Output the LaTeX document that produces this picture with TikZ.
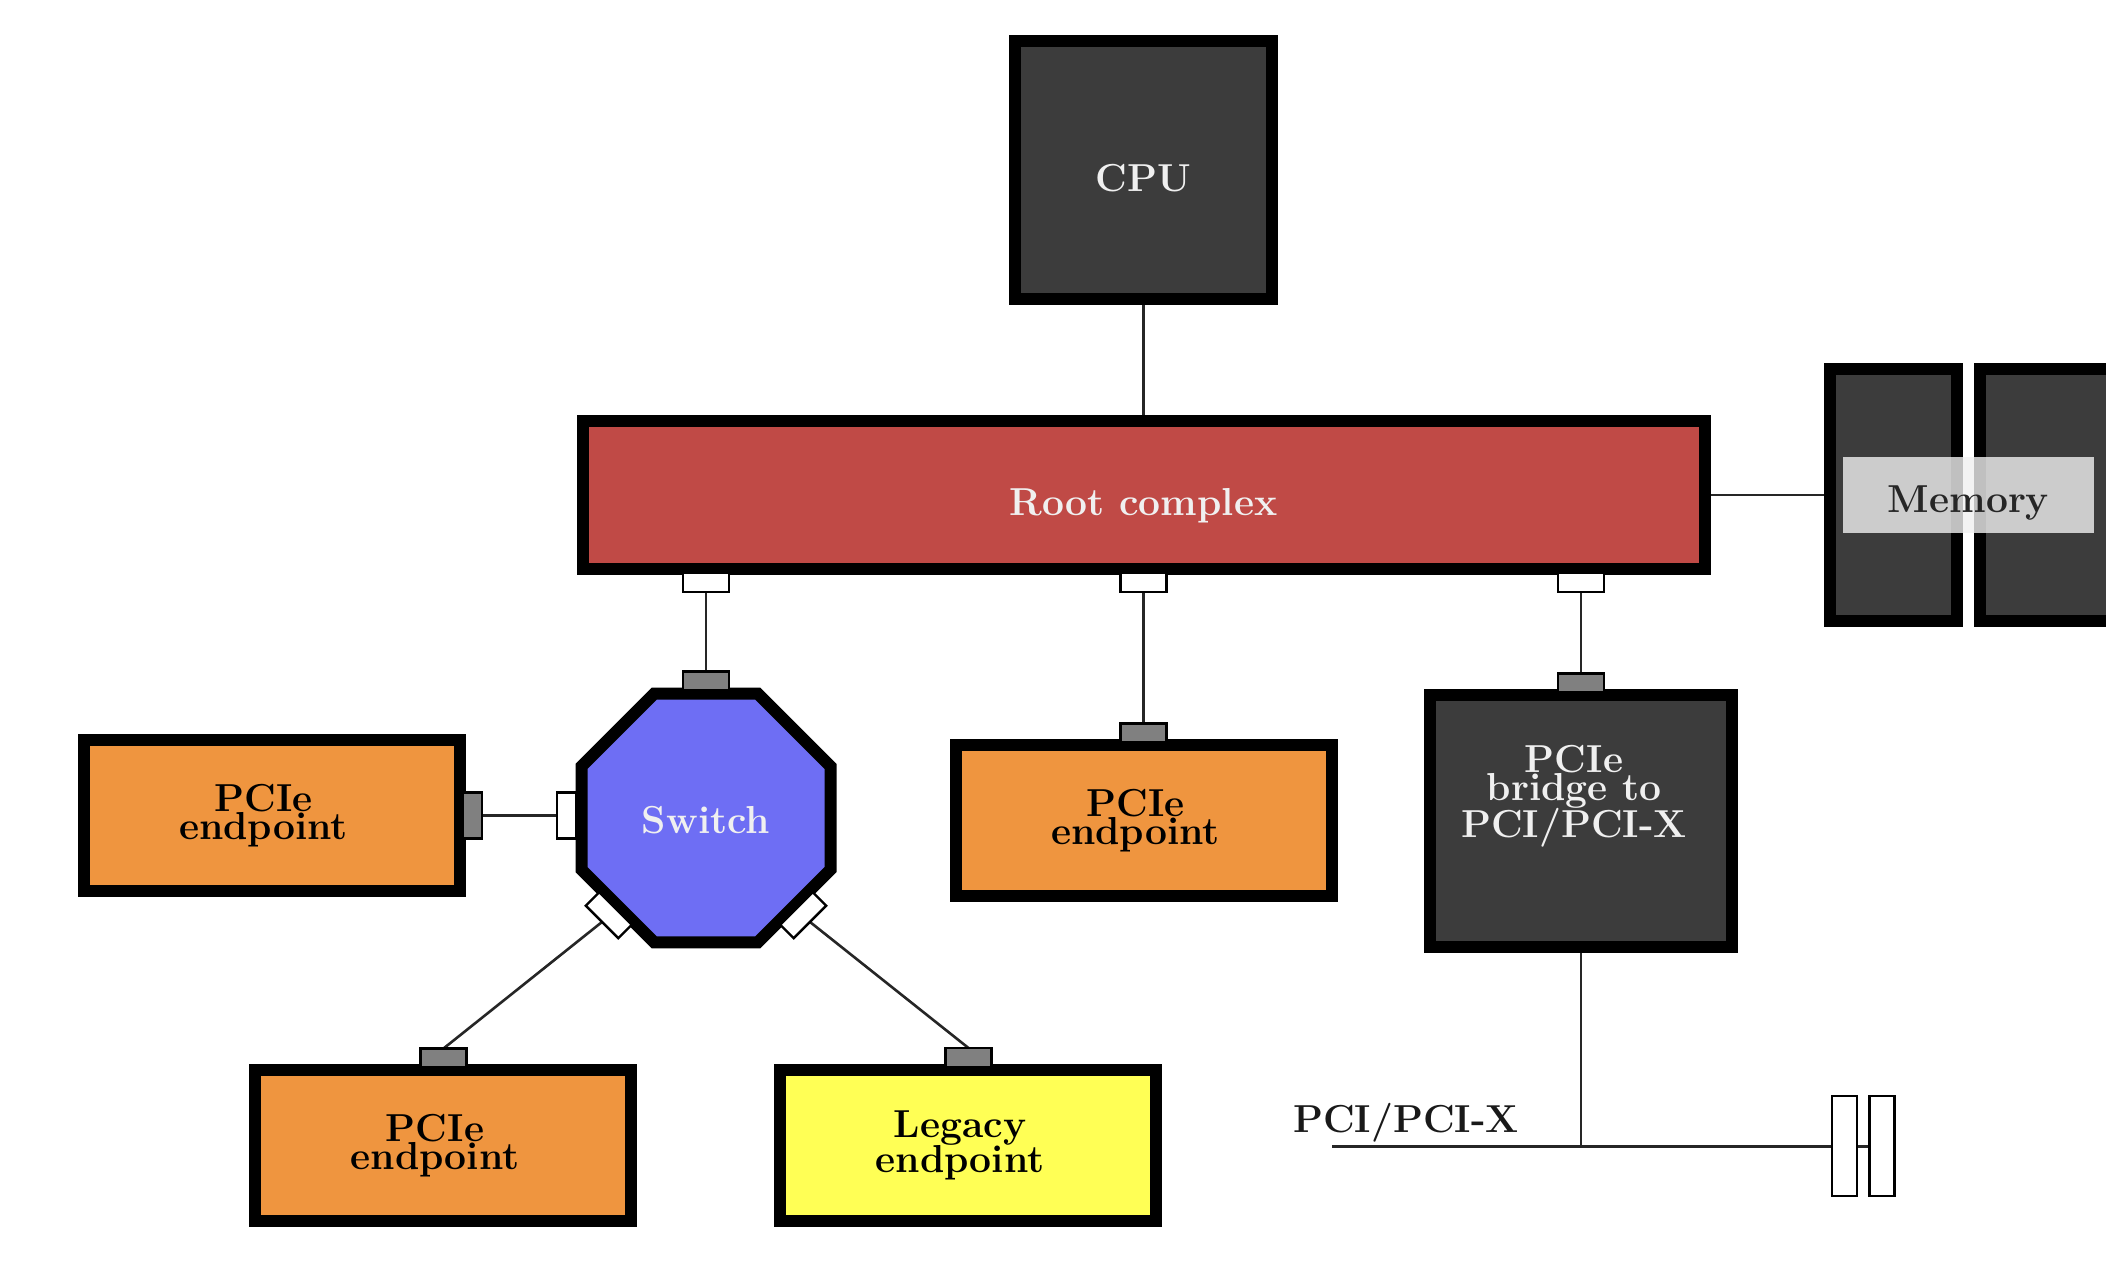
\documentclass[tikz,border=0pt]{standalone}
\usepackage{fontspec}
\usetikzlibrary{shapes.geometric,backgrounds}
\definecolor{cpugray}{HTML}{3C3C3C}
\definecolor{rootred}{HTML}{C04A46}
\definecolor{swblue}{HTML}{6E6EF4}
\definecolor{eporange}{HTML}{EF953F}
\definecolor{epyellow}{HTML}{FFFF55}
\definecolor{portgray}{HTML}{808080}
\definecolor{memband}{HTML}{F0F0F0}
\newcommand{\shl}{\hspace*{8pt}}
\newcommand{\tightbold}{\fontsize{19.5}{0}\selectfont\bfseries\lineskip 0pt\relax}
\begin{document}
\begin{tikzpicture}[x=0.5pt,y=-0.5pt,
  box/.style={draw=black, line width=6pt, rectangle, inner sep=0pt, outer sep=0pt},
  epbox/.style={box, minimum width=188pt, minimum height=75.5pt, bfont, align=center},
  bfont/.style={font=\tightbold},
  wlabel/.style={bfont, text=white!94!black, inner sep=0pt, anchor=base},
  port/.style={draw=black, line width=1.2pt, rectangle, inner sep=0pt, outer sep=0pt,
    minimum width=23pt, minimum height=9.5pt},
  gport/.style={port, fill=portgray},
  wport/.style={port, fill=white},
  slot/.style={draw=black, line width=1.3pt, fill=white, rectangle, inner sep=0pt,
    outer sep=0pt, minimum width=12.5pt, minimum height=50pt},
  conn/.style={line width=1.3pt, draw=black!85},
  busline/.style={line width=1.5pt, draw=black!85}]
\useasboundingbox (0,0) rectangle (2106,1262);
\clip (0,0) rectangle (2106,1262);

% main boxes
\node[box, fill=cpugray, minimum width=128.5pt, minimum height=129pt] (cpu) at (1143.5,170) {};
\node[wlabel] (cpulabel) at (1143.5,192) {CPU};

\node[box, fill=rootred, minimum width=561pt, minimum height=74pt] (root) at (1143.5,495) {};
\node[wlabel] (rootlabel) at (1143.5,516) {Root complex};

\node[box, fill=cpugray, minimum width=63.5pt, minimum height=126pt] (mem1) at (1893.5,495) {};
\node[box, fill=cpugray, minimum width=70pt, minimum height=126pt] (mem2) at (2050,495) {};
\node[fill=memband, fill opacity=0.8, rectangle, inner sep=0pt,
  minimum width=125.5pt, minimum height=38pt] (memband) at (1968.5,495) {};
\node[bfont, text=black!85, inner sep=0pt, anchor=base] (memlabel) at (1968.5,513) {Memory};

\node[regular polygon, regular polygon sides=8, minimum size=134.76pt, draw=black,
  line width=6pt, fill=swblue, inner sep=0pt, outer sep=0pt] (switch) at (706,818) {};
\node[wlabel] (switchlabel) at (706,833) {Switch};

\node[epbox, fill=eporange] (epleft) at (271.5,815.5) {PCIe\shl\\endpoint\shl};
\node[epbox, fill=eporange] (epmid) at (1143.5,820.5) {PCIe\shl\\endpoint\shl};
\node[epbox, fill=eporange] (epbl) at (443,1145.5) {PCIe\shl\\endpoint\shl};
\node[epbox, fill=epyellow] (legacy) at (968,1145) {Legacy\shl\\endpoint\shl};

\node[box, fill=cpugray, minimum width=151pt, minimum height=126pt] (bridge) at (1581,821) {};
\node[bfont, text=white!94!black, align=center, inner sep=0pt, anchor=north] (bridgelabel)
  at (1574,745) {PCIe\\bridge to\\PCI/PCI-X};

% ports
\node[wport] (rp1) at (706,582.5) {};
\node[wport] (rp2) at (1143.5,582.5) {};
\node[wport] (rp3) at (1581,582.5) {};
\node[gport] (swtop) at (706,681) {};
\node[wport, rotate=-90] (swleft) at (566.5,815.5) {};
\node[wport, rotate=-45] (swll) at (608.8,915.2) {};
\node[wport, rotate=45] (swlr) at (803.2,915.2) {};
\node[gport, rotate=90] (eplport) at (472.5,815.5) {};
\node[gport] (epmidport) at (1143.5,733) {};
\node[gport] (bridgeport) at (1581,683) {};
\node[gport] (epblport) at (443.5,1058) {};
\node[gport] (legport) at (968.5,1057.5) {};

% PCI bus
\coordinate (busstart) at (1332,1146);
\coordinate (busjoin) at (1581,1146);
\node[slot] (slot1) at (1844.5,1146) {};
\node[slot] (slot2) at (1882,1146) {};
\node[bfont, text=black!90, inner sep=0pt, anchor=base] (buslabel) at (1406,1132) {PCI/PCI-X};

% connectors
\begin{scope}[on background layer]
\draw[conn] (cpu.south) -- (root.north);
\draw[conn] (root.east) -- (mem1.west);
\draw[conn] (rp1.south) -- (swtop.north);
\draw[conn] (rp2.south) -- (epmidport.north);
\draw[conn] (rp3.south) -- (bridgeport.north);
\draw[conn] (swleft.south) -- (eplport.south);
\draw[conn] (swll.south) -- (epblport.north);
\draw[conn] (swlr.south) -- (legport.north);
\draw[conn] (bridge.south) -- (busjoin);
\draw[busline] (busstart) -- (slot1.west);
\draw[busline] (slot1.east) -- (slot2.west);
\end{scope}
\end{tikzpicture}
\end{document}
